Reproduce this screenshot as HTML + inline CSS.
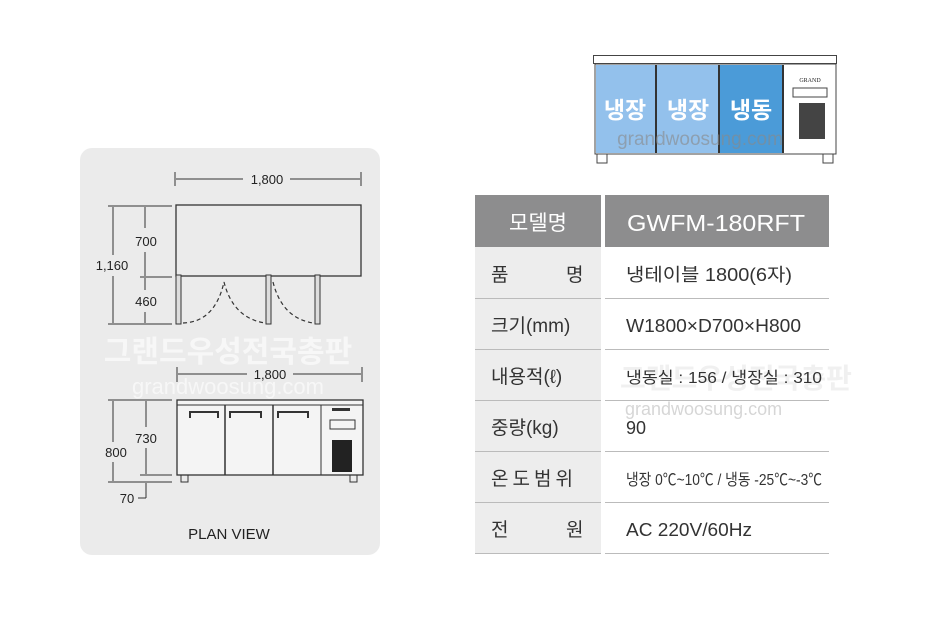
<!DOCTYPE html>
<html><head><meta charset="utf-8"><style>
body{margin:0;width:933px;height:625px;background:#fff;overflow:hidden;font-family:"Liberation Sans","Noto Sans CJK KR",sans-serif}
svg{position:absolute;left:0;top:0}
</style></head><body>
<svg width="933" height="625" viewBox="0 0 933 625" font-family="Liberation Sans, Noto Sans CJK KR, sans-serif">
<rect x="80" y="148" width="300" height="407" rx="12" fill="#ebebeb"/>
<g stroke="#333" stroke-width="1" fill="none">
<line x1="175" y1="172" x2="175" y2="186"/><line x1="361" y1="172" x2="361" y2="186"/>
<line x1="176" y1="179" x2="243" y2="179"/><line x1="290" y1="179" x2="360" y2="179"/>
<rect x="176" y="205" width="185" height="71" stroke-width="1.3"/>
<rect x="176" y="275" width="5" height="49" fill="#ddd"/>
<rect x="266" y="275" width="5" height="49" fill="#ddd"/>
<rect x="315" y="275" width="5" height="49" fill="#ddd"/>
<path d="M183 323 Q215 322 224 282 Q233 318 265 323" stroke-dasharray="4,3" stroke-width="1.2"/>
<path d="M273 282 Q282 318 313 323" stroke-dasharray="4,3" stroke-width="1.2"/>
<line x1="108" y1="206" x2="172" y2="206"/><line x1="140" y1="277" x2="172" y2="277"/><line x1="108" y1="324" x2="172" y2="324"/>
<line x1="113" y1="207" x2="113" y2="255"/><line x1="113" y1="276" x2="113" y2="323"/>
<line x1="145" y1="207" x2="145" y2="228"/><line x1="145" y1="252" x2="145" y2="276"/>
<line x1="145" y1="278" x2="145" y2="290"/><line x1="145" y1="312" x2="145" y2="323"/>
<line x1="177" y1="367" x2="177" y2="382"/><line x1="362" y1="367" x2="362" y2="382"/>
<line x1="178" y1="374" x2="247" y2="374"/><line x1="293" y1="374" x2="361" y2="374"/>
<rect x="177" y="400" width="186" height="75" fill="#f4f4f4" stroke-width="1.3"/>
<line x1="177" y1="405" x2="363" y2="405"/>
<line x1="225" y1="405" x2="225" y2="475" stroke-width="1.5"/>
<line x1="273" y1="405" x2="273" y2="475" stroke-width="1.5"/>
<line x1="321" y1="405" x2="321" y2="475"/>
<path d="M190 418 V412 H218 V418" stroke-width="2"/>
<path d="M230 418 V412 H261 V418" stroke-width="2"/>
<path d="M278 418 V412 H308 V418" stroke-width="2"/>
<rect x="330" y="420" width="25" height="9"/>
<rect x="181" y="475" width="7" height="7"/><rect x="350" y="475" width="7" height="7"/>
<line x1="108" y1="400" x2="172" y2="400"/><line x1="108" y1="482" x2="172" y2="482"/><line x1="140" y1="475" x2="172" y2="475"/>
<line x1="113" y1="401" x2="113" y2="442"/><line x1="113" y1="462" x2="113" y2="481"/>
<line x1="146" y1="401" x2="146" y2="427"/><line x1="146" y1="448" x2="146" y2="474"/>
<line x1="146" y1="483" x2="146" y2="498"/><line x1="138" y1="498" x2="146" y2="498"/>
</g>
<rect x="332" y="408" width="18" height="3" fill="#333"/>
<rect x="332" y="440" width="20" height="32" fill="#222"/>
<g fill="#222" font-size="13" text-anchor="middle">
<text x="267" y="184">1,800</text>
<text x="146" y="246">700</text>
<text x="112" y="270">1,160</text>
<text x="146" y="306">460</text>
<text x="270" y="379">1,800</text>
<text x="146" y="443">730</text>
<text x="116" y="457">800</text>
<text x="127" y="503">70</text>
<text x="229" y="539" font-size="15">PLAN VIEW</text>
</g>
<text x="228" y="362" font-size="30" fill="#fff" fill-opacity="0.6" text-anchor="middle" font-weight="bold">그랜드우성전국총판</text>
<text x="228" y="394" font-size="22" fill="#fff" fill-opacity="0.6" text-anchor="middle">grandwoosung.com</text>
<rect x="593.5" y="55.5" width="243" height="8" fill="#fff" stroke="#444"/>
<rect x="595" y="64" width="241" height="90" fill="#fff" stroke="#444"/>
<rect x="596" y="65" width="59" height="88" fill="#93c1ec"/>
<rect x="657" y="65" width="61" height="88" fill="#93c1ec"/>
<rect x="720" y="65" width="62" height="88" fill="#4b9bd8"/>
<g stroke="#333" stroke-width="2"><line x1="656" y1="65" x2="656" y2="153"/><line x1="719" y1="65" x2="719" y2="153"/><line x1="783" y1="65" x2="783" y2="153"/></g>
<rect x="597" y="154" width="10" height="9" fill="#fff" stroke="#444"/>
<rect x="823" y="154" width="10" height="9" fill="#fff" stroke="#444"/>
<rect x="793" y="88" width="34" height="9" fill="#fff" stroke="#444"/>
<rect x="799" y="103" width="26" height="36" fill="#444"/>
<text x="810" y="82" font-size="6" font-family="Liberation Serif, serif" text-anchor="middle" fill="#222">GRAND</text>
<g fill="#fff" font-size="23" font-weight="bold" text-anchor="middle"><text x="625" y="118">냉장</text><text x="688" y="118">냉장</text><text x="751" y="118">냉동</text></g>
<text x="700" y="145" font-size="19" fill="#888" fill-opacity="0.6" text-anchor="middle">grandwoosung.com</text>
<rect x="475" y="195" width="126" height="52" fill="#8d8d8e"/>
<rect x="605" y="195" width="224" height="52" fill="#8d8d8e"/>
<rect x="475" y="247" width="126" height="306" fill="#ededed"/>
<g stroke="#bbb" stroke-width="1">
<line x1="475" y1="298.5" x2="829" y2="298.5"/><line x1="475" y1="349.5" x2="829" y2="349.5"/>
<line x1="475" y1="400.5" x2="829" y2="400.5"/><line x1="475" y1="451.5" x2="829" y2="451.5"/>
<line x1="475" y1="502.5" x2="829" y2="502.5"/><line x1="475" y1="553.5" x2="829" y2="553.5"/>
</g>
<rect x="601" y="195" width="4" height="360" fill="#fff"/>
<g fill="#fff" font-size="21"><text x="538" y="230" text-anchor="middle">모델명</text><text x="716" y="231" text-anchor="middle" font-size="23" textLength="178" lengthAdjust="spacingAndGlyphs">GWFM-180RFT</text></g>
<g fill="#333" font-size="19">
<text x="491" y="281">품</text><text x="566" y="281">명</text>
<text x="491" y="332">크기(mm)</text>
<text x="491" y="383">내용적(ℓ)</text>
<text x="491" y="434">중량(kg)</text>
<text x="491" y="485" letter-spacing="4">온도범위</text>
<text x="491" y="536">전</text><text x="566" y="536">원</text>
</g>
<text x="620" y="388" font-size="28" fill="#ccc" fill-opacity="0.3" font-weight="bold">그랜드우성전국총판</text>
<text x="625" y="415" font-size="18" fill="#999" fill-opacity="0.4">grandwoosung.com</text>
<g fill="#333" font-size="18">
<text x="626" y="281" textLength="166" lengthAdjust="spacingAndGlyphs">냉테이블 1800(6자)</text>
<text x="626" y="332" textLength="175" lengthAdjust="spacingAndGlyphs">W1800×D700×H800</text>
<text x="626" y="383" font-size="16" textLength="196" lengthAdjust="spacingAndGlyphs">냉동실 : 156 / 냉장실 : 310</text>
<text x="626" y="434">90</text>
<text x="626" y="485" font-size="16" textLength="196" lengthAdjust="spacingAndGlyphs">냉장 0℃~10℃ / 냉동 -25℃~-3℃</text>
<text x="626" y="536" textLength="126" lengthAdjust="spacingAndGlyphs">AC 220V/60Hz</text>
</g>
</svg>
</body></html>
